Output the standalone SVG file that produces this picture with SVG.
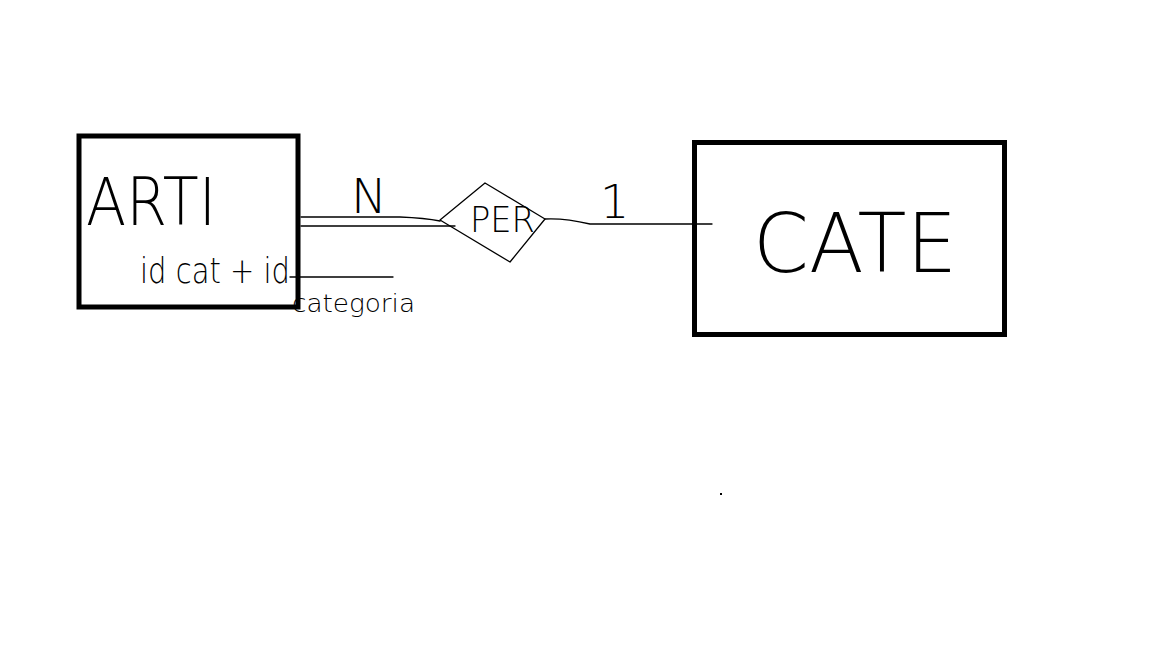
<svg xmlns="http://www.w3.org/2000/svg" width="1152" height="648" viewBox="0 0 1152 648">
<style>
.box{fill:none;stroke:#000;stroke-width:5}
.ln{fill:none;stroke:#000;stroke-width:1.3;stroke-linecap:round;stroke-linejoin:round}
.t{font-family:"DejaVu Sans","Liberation Sans",sans-serif;font-weight:200;fill:#000}
</style>
<rect width="1152" height="648" fill="#fff"/>
<g id="connectors">
<path class="ln" d="M301,217 L400,217 Q425,218 440,221"/>
<path class="ln" d="M301,226 L455,226"/>
<path class="ln" d="M545,219 Q565,218 590,224 L712,224"/>
<path class="ln" d="M290,277 L393,277"/>
</g>
<g id="arti">
<rect class="box" x="79" y="136" width="219" height="171"/>
<text class="t" x="86" y="225" font-size="66" textLength="130" lengthAdjust="spacingAndGlyphs">ARTI</text>
<text class="t" x="140" y="283" font-size="36" textLength="150" lengthAdjust="spacingAndGlyphs">id cat + id</text>
<text class="t" x="292" y="312" font-size="24" textLength="123" lengthAdjust="spacingAndGlyphs">categoria</text>
</g>
<g id="per">
<path class="ln" d="M440,220 L485,183 L545,219 L510,262 Z"/>
<text class="t" x="470" y="232" font-size="36" textLength="65" lengthAdjust="spacingAndGlyphs">PER</text>
</g>
<g id="cate">
<rect class="box" x="694.5" y="142.5" width="310" height="192"/>
<text class="t" x="753" y="272" font-size="82" textLength="204" lengthAdjust="spacingAndGlyphs">CATE</text>
</g>
<g id="labels">
<text class="t" x="351" y="213" font-size="48">N</text>
<text class="t" x="600" y="218" font-size="46">1</text>
</g>
<rect x="720" y="493" width="2" height="2" fill="#000"/>
</svg>
